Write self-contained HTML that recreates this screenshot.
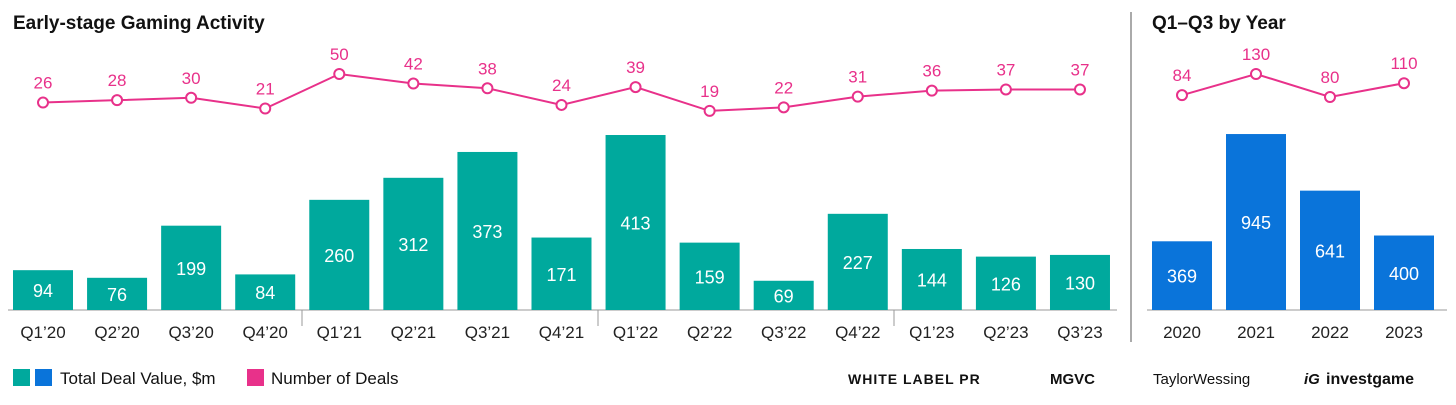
<!DOCTYPE html>
<html><head><meta charset="utf-8"><style>
body{margin:0;background:#fff;}
svg text{font-family:"Liberation Sans",sans-serif;}
</style></head><body>
<svg width="1456" height="400" viewBox="0 0 1456 400" xmlns="http://www.w3.org/2000/svg">
<text x="13" y="29" font-size="19" font-weight="bold" fill="#111">Early-stage Gaming Activity</text>
<text x="1152" y="29" font-size="19" font-weight="bold" fill="#111">Q1–Q3 by Year</text>
<line x1="1131" y1="12" x2="1131" y2="342" stroke="#aaa" stroke-width="2"/>
<line x1="8" y1="310" x2="1117" y2="310" stroke="#999" stroke-width="1"/>
<line x1="1147" y1="310" x2="1447" y2="310" stroke="#999" stroke-width="1"/>
<g stroke="#999"><line x1="302" y1="310" x2="302" y2="326"/><line x1="598" y1="310" x2="598" y2="326"/><line x1="894" y1="310" x2="894" y2="326"/></g>
<g id="bars"></g>
<g id="line"></g>
<g font-size="17" fill="#111">
<rect x="13" y="369" width="17" height="17" fill="#00a99d"/>
<rect x="35" y="369" width="17" height="17" fill="#0a74da"/>
<text x="60" y="384">Total Deal Value, $m</text>
<rect x="247" y="369" width="17" height="17" fill="#e8318a"/>
<text x="271" y="384">Number of Deals</text>
</g>
<text x="848" y="384" font-size="14" font-weight="bold" fill="#111" letter-spacing="1">WHITE LABEL PR</text>
<text x="1050" y="384" font-size="15" font-weight="bold" fill="#111">MGVC</text>
<text x="1153" y="384" font-size="15" fill="#111">TaylorWessing</text>
<text x="1304" y="384" font-size="15" font-weight="bold" font-style="italic" fill="#111">iG</text>
<text x="1326" y="384" font-size="16" font-weight="bold" fill="#111">investgame</text>
</svg>
<script>
const ns="http://www.w3.org/2000/svg";
const bars=document.getElementById('bars'),line=document.getElementById('line');
function el(t,a,p,txt){const e=document.createElementNS(ns,t);for(const k in a)e.setAttribute(k,a[k]);if(txt!==undefined)e.textContent=txt;p.appendChild(e);return e;}
const q=["Q1’20","Q2’20","Q3’20","Q4’20","Q1’21","Q2’21","Q3’21","Q4’21","Q1’22","Q2’22","Q3’22","Q4’22","Q1’23","Q2’23","Q3’23"];
const v=[94,76,199,84,260,312,373,171,413,159,69,227,144,126,130];
const n=[26,28,30,21,50,42,38,24,39,19,22,31,36,37,37];
let pts=[];
q.forEach((l,i)=>{const cx=43+i*74.07,h=v[i]*0.4237;
el('rect',{x:cx-30,y:310-h,width:60,height:h,fill:'#00a99d'},bars);
el('text',{x:cx,y:310-h/2+7,'text-anchor':'middle','font-size':18,fill:'#fff'},bars,v[i]);
el('text',{x:cx,y:338,'text-anchor':'middle','font-size':17,fill:'#222'},bars,l);
const y=74+(50-n[i])*1.19;pts.push([cx,y]);
el('text',{x:cx,y:y-14,'text-anchor':'middle','font-size':17,fill:'#e8318a'},line,n[i]);});
el('polyline',{points:pts.map(p=>p.join(',')).join(' '),fill:'none',stroke:'#e8318a','stroke-width':2},line,undefined);
pts.forEach(p=>el('circle',{cx:p[0],cy:p[1],r:5,fill:'#fff',stroke:'#e8318a','stroke-width':2},line));
const yl=["2020","2021","2022","2023"],yv=[369,945,641,400],yn=[84,130,80,110];let p2=[];
yl.forEach((l,i)=>{const cx=1182+i*74,h=yv[i]*0.1862;
el('rect',{x:cx-30,y:310-h,width:60,height:h,fill:'#0a74da'},bars);
el('text',{x:cx,y:310-h/2+7,'text-anchor':'middle','font-size':18,fill:'#fff'},bars,yv[i]);
el('text',{x:cx,y:338,'text-anchor':'middle','font-size':17,fill:'#222'},bars,l);
const y=74+(130-yn[i])*0.46;p2.push([cx,y]);
el('text',{x:cx,y:y-14,'text-anchor':'middle','font-size':17,fill:'#e8318a'},line,yn[i]);});
el('polyline',{points:p2.map(p=>p.join(',')).join(' '),fill:'none',stroke:'#e8318a','stroke-width':2},line,undefined);
p2.forEach(p=>el('circle',{cx:p[0],cy:p[1],r:5,fill:'#fff',stroke:'#e8318a','stroke-width':2},line));
</script>
</body></html>
